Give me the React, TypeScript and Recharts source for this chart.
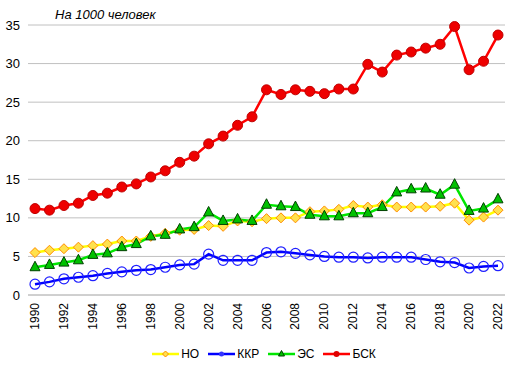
import React from "react";
import { LineChart, Line, XAxis, YAxis, CartesianGrid } from "recharts";

const years = [
  1990, 1991, 1992, 1993, 1994, 1995, 1996, 1997, 1998, 1999, 2000, 2001, 2002, 2003, 2004, 2005, 2006,
  2007, 2008, 2009, 2010, 2011, 2012, 2013, 2014, 2015, 2016, 2017, 2018, 2019, 2020, 2021, 2022,
];

const no = [
  5.5, 5.8, 6.0, 6.2, 6.4, 6.6, 7.0, 7.0, 7.6, 8.0, 8.4, 8.5, 9.0, 8.9, 9.6, 9.5, 9.9, 10.0, 10.0, 10.8,
  10.9, 11.1, 11.6, 11.4, 11.7, 11.4, 11.4, 11.4, 11.5, 11.9, 9.7, 10.1, 11.0,
];
const kkr = [
  1.4, 1.7, 2.1, 2.3, 2.5, 2.8, 3.0, 3.2, 3.3, 3.6, 3.9, 4.0, 5.3, 4.5, 4.5, 4.5, 5.5, 5.6, 5.4, 5.2, 5.0,
  4.9, 4.9, 4.8, 4.9, 4.9, 4.9, 4.6, 4.3, 4.2, 3.5, 3.7, 3.8,
];
const es = [
  3.6, 3.9, 4.2, 4.5, 5.2, 5.4, 6.2, 6.6, 7.6, 7.8, 8.5, 8.8, 10.7, 9.6, 9.8, 9.6, 11.7, 11.5, 11.4,
  10.4, 10.2, 10.2, 10.6, 10.6, 11.4, 13.3, 13.7, 13.8, 13.0, 14.3, 10.9, 11.2, 12.4,
];
const bsk = [
  11.2, 11.0, 11.6, 11.9, 12.9, 13.2, 14.0, 14.4, 15.3, 16.1, 17.2, 18.0, 19.6, 20.6, 22.0, 23.1, 26.6,
  26.0, 26.6, 26.4, 26.1, 26.7, 26.7, 29.9, 28.9, 31.1, 31.5, 32.0, 32.5, 34.8, 29.2, 30.3, 33.7,
];

const yTicks = [0, 5, 10, 15, 20, 25, 30, 35];

const data = years.map((y, i) => ({ year: y, no: no[i], kkr: kkr[i], es: es[i], bsk: bsk[i] }));

const font = "'Liberation Sans', Arial, sans-serif";

const Diamond = (props: any) => {
  const { cx, cy } = props;
  if (cx == null || cy == null) return null;
  const s = 5;
  return (
    <path
      d={`M${cx},${cy - s}L${cx + s},${cy}L${cx},${cy + s}L${cx - s},${cy}Z`}
      fill="#ffe14d"
      stroke="#ff8c00"
      strokeWidth={1}
    />
  );
};

const Triangle = (props: any) => {
  const { cx, cy } = props;
  if (cx == null || cy == null) return null;
  return (
    <path
      d={`M${cx},${cy - 6}L${cx + 5},${cy + 3.5}L${cx - 5},${cy + 3.5}Z`}
      fill="#00c000"
      stroke="#004000"
      strokeWidth={1}
    />
  );
};

const YearTick = (props: any) => {
  const { x, y, payload } = props;
  return (
    <text
      x={x}
      y={y}
      dy={4}
      transform={`rotate(-90, ${x}, ${y})`}
      textAnchor="end"
      fontSize={12}
      fontFamily={font}
      fill="#000"
    >
      {payload.value}
    </text>
  );
};

const legendItems = [
  { name: "НО", color: "#ffff00", mark: "diamond" },
  { name: "ККР", color: "#0000ff", mark: "circle" },
  { name: "ЭС", color: "#00e600", mark: "triangle" },
  { name: "БСК", color: "#ff0000", mark: "dot" },
];

function LegendIcon({ color, mark }: { color: string; mark: string }) {
  return (
    <svg width={27} height={10} style={{ marginRight: 2 }}>
      <line x1={0} y1={5} x2={27} y2={5} stroke={color} strokeWidth={2.5} />
      {mark === "diamond" && <path d="M13.5,2L16.5,5L13.5,8L10.5,5Z" fill="#ffe14d" stroke="#ff8c00" />}
      {mark === "circle" && <circle cx={13.5} cy={5} r={2.5} fill="#3333ff" />}
      {mark === "triangle" && <path d="M13.5,1.5L16.5,7L10.5,7Z" fill="#00c000" stroke="#004000" />}
      {mark === "dot" && <circle cx={13.5} cy={5} r={3} fill="#e00000" />}
    </svg>
  );
}

export default function App() {
  return (
    <div style={{ position: "absolute", left: 0, top: 0, width: 523, height: 372, background: "#fff" }}>
      <LineChart width={523} height={372} data={data} margin={{ top: 25, right: 18, bottom: 37, left: 0 }}>
        <CartesianGrid vertical={false} stroke="#c0c0c0" strokeWidth={1} />
        <XAxis
          dataKey="year"
          interval={1}
          tick={<YearTick />}
          tickLine={false}
          axisLine={{ stroke: "#c0c0c0" }}
          padding={{ left: 7, right: 7 }}
          height={40}
        />
        <YAxis
          domain={[0, 35]}
          ticks={yTicks}
          width={28}
          tickLine={false}
          axisLine={false}
          tick={{ fontSize: 13, fontFamily: font, fill: "#000" }}
        />
        <Line dataKey="no" stroke="#ffff00" strokeWidth={2.5} dot={<Diamond />} isAnimationActive={false} />
        <Line
          dataKey="kkr"
          stroke="#0000ff"
          strokeWidth={2.5}
          dot={{ r: 5, fill: "none", stroke: "#2020ff", strokeWidth: 1.2 }}
          isAnimationActive={false}
        />
        <Line dataKey="es" stroke="#00e600" strokeWidth={2.5} dot={<Triangle />} isAnimationActive={false} />
        <Line
          dataKey="bsk"
          stroke="#ff0000"
          strokeWidth={2.5}
          dot={{ r: 5, fill: "#ee0000", stroke: "#c00000", strokeWidth: 1 }}
          isAnimationActive={false}
        />
        <text x={55} y={19} fontSize={13} fontStyle="italic" fontFamily={font} fill="#000">
          На 1000 человек
        </text>
      </LineChart>
      <div
        style={{
          position: "absolute",
          top: 347,
          left: 0,
          width: 523,
          display: "flex",
          justifyContent: "center",
          paddingLeft: 14,
          boxSizing: "border-box",
          fontFamily: font,
          fontSize: 12,
          alignItems: "center",
        }}
      >
        {legendItems.map((it) => (
          <div key={it.name} style={{ display: "flex", alignItems: "center", marginRight: 9 }}>
            <LegendIcon color={it.color} mark={it.mark} />
            <span>{it.name}</span>
          </div>
        ))}
      </div>
    </div>
  );
}
